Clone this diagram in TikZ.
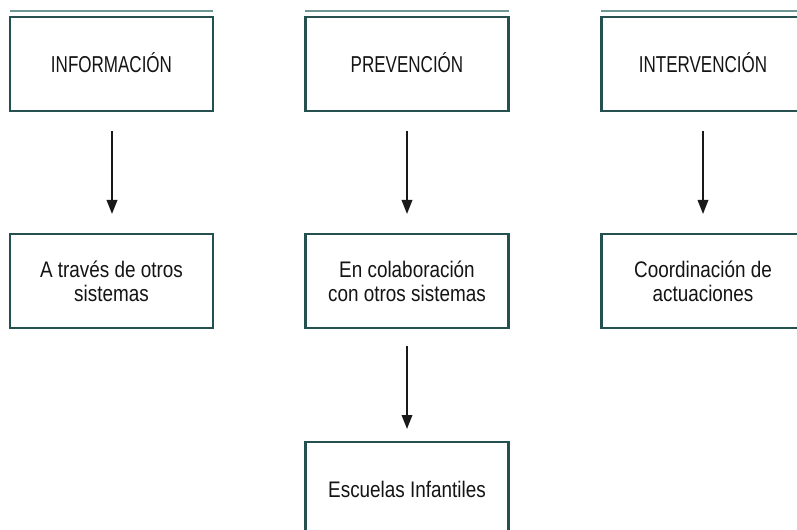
\documentclass[tikz,border=0pt]{standalone}
\usepackage{fontspec}
\setmainfont{Liberation Sans}[FakeStretch=0.84]
\newfontfamily\capsfont{Liberation Sans}[FakeStretch=0.74]
\usetikzlibrary{arrows.meta}
\definecolor{boxc}{HTML}{24504F}
\definecolor{linec}{HTML}{6E9692}
\definecolor{txt}{HTML}{141414}
\tikzset{
  box/.style={draw=boxc, line width=2.2bp, minimum width=203bp, minimum height=94bp,
    inner sep=0pt, align=center, text=txt, font=\fontsize{22.5bp}{24bp}\selectfont},
  capbox/.style={box, font=\fontsize{23bp}{24bp}\capsfont},
  topline/.style={draw=linec, line width=2bp},
  arr/.style={draw=black!90, line width=1.8bp, -{Triangle[length=14bp,width=10.5bp]}}
}
\begin{document}
\begin{tikzpicture}[x=1bp,y=-1bp]
\useasboundingbox (0,0) rectangle (797,530);
\clip (0,0) rectangle (797,530);
\fill[white] (0,0) rectangle (797,530);
% top lines
\coordinate (l1a) at (10,11); \coordinate (l1b) at (213,11);
\coordinate (l2a) at (305,11); \coordinate (l2b) at (509,11);
\coordinate (l3a) at (601,11); \coordinate (l3b) at (810,11);
\draw[topline] (l1a) -- (l1b);
\draw[topline] (l2a) -- (l2b);
\draw[topline] (l3a) -- (l3b);
% row 1
\node[capbox] (info) at (111.5,64) {\raisebox{3bp}{INFORMACIÓN}};
\node[capbox] (prev) at (407,64) {\raisebox{3bp}{PREVENCIÓN}};
\node[capbox] (inter) at (703,64) {\raisebox{3bp}{INTERVENCIÓN}};
% row 2
\node[box] (otros) at (111.5,281) {A través de otros\\sistemas};
\node[box] (colab) at (407,281) {En colaboración\\con otros sistemas};
\node[box] (coord) at (703,281) {Coordinación de\\actuaciones};
% row 3
\node[box] (escuelas) at (407,489) {Escuelas Infantiles};
% arrows
\coordinate (a1s) at (112,131); \coordinate (a1e) at (112,214);
\coordinate (a2s) at (407,131); \coordinate (a2e) at (407,214);
\coordinate (a3s) at (703,131); \coordinate (a3e) at (703,214);
\coordinate (a4s) at (407,346); \coordinate (a4e) at (407,429);
\draw[arr] (a1s) -- (a1e);
\draw[arr] (a2s) -- (a2e);
\draw[arr] (a3s) -- (a3e);
\draw[arr] (a4s) -- (a4e);
\end{tikzpicture}
\end{document}
